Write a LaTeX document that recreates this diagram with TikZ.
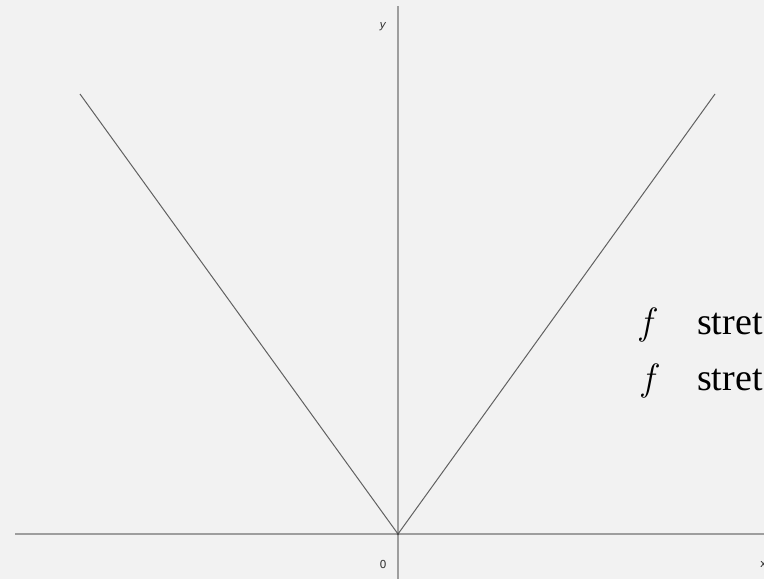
\documentclass[tikz,border=0pt]{standalone}
\usepackage{fontspec}
\setmainfont{Liberation Serif}
\newfontfamily\labfont{DejaVu Sans}
\newfontfamily\lmfont{Latin Modern Roman}
\tikzset{
  axis/.style={draw=black!38, line width=1.3pt},
  graphline/.style={draw=black!62, line width=1pt},
  smalllab/.style={font=\labfont\fontsize{11}{13}\selectfont, text=black!80, inner sep=0pt},
  biglab/.style={font=\fontsize{38}{46}\selectfont, inner sep=0pt, anchor=base west},
}
\begin{document}
\begin{tikzpicture}[x=1pt,y=-1pt]
\path[use as bounding box, fill=black!5] (0,0) rectangle (764,579);
\begin{scope}
\clip (0,0) rectangle (764,579);
\coordinate (O) at (398,534);
\coordinate (ytop) at (398,6);
\coordinate (ybot) at (398,579);
\coordinate (xl) at (15,534);
\coordinate (xr) at (764,534);
\coordinate (A) at (80,94);
\coordinate (B) at (715,94);
\draw[axis] (ytop) -- (ybot);
\draw[axis] (xl) -- (xr);
\draw[graphline] (A) -- (O) -- (B);
\fill[black!70] (O) circle (1.3pt);
\node[smalllab] (ylab) at (383,27) {\itshape y};
\node[smalllab] (zero) at (383,564) {0};
\node[smalllab, anchor=west] (xlab) at (760,564) {x};
\node[biglab] (l1f) at (640,334) {\lmfont\itshape f};
\node[biglab] (l1) at (697,334) {stret};
\node[biglab] (l2f) at (642,390) {\lmfont\itshape f};
\node[biglab] (l2) at (697,390) {stret};
\end{scope}
\end{tikzpicture}
\end{document}
